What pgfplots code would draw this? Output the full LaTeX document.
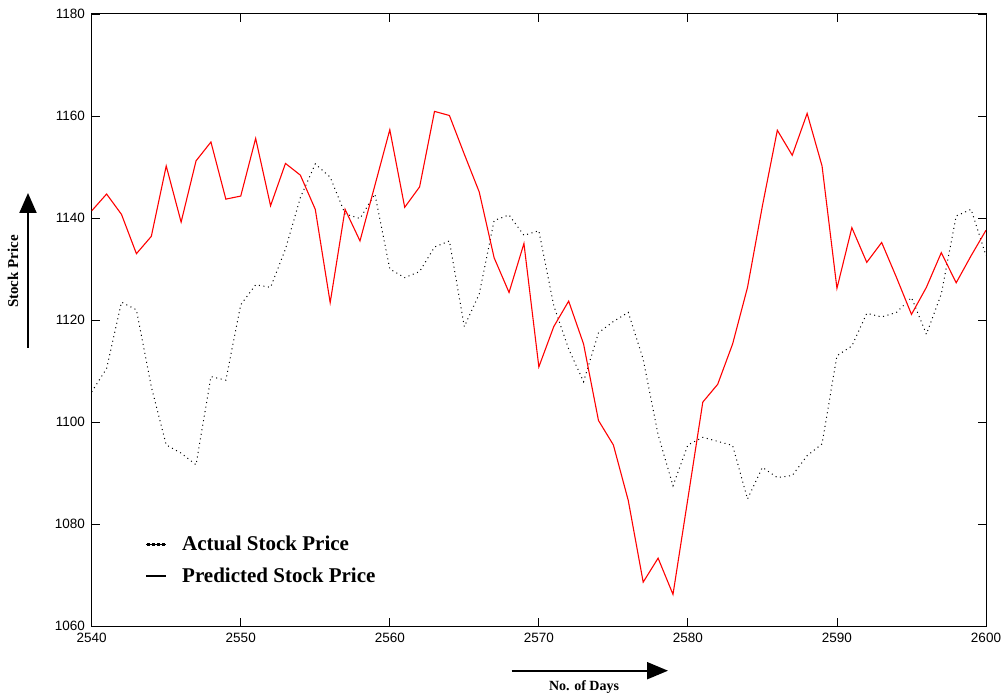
\documentclass[border=0pt]{standalone}
\usepackage{fontspec}
\setmainfont{Liberation Sans}
\newfontfamily\tnr{Liberation Serif}
\usepackage{pgfplots}
\pgfplotsset{compat=1.18}
\usetikzlibrary{arrows.meta}

\newcommand\tickfont{\fontsize{13.5bp}{15bp}\selectfont}
\newcommand\legfont{\tnr\bfseries\fontsize{21bp}{24bp}\selectfont}

\begin{document}
\begin{tikzpicture}
\path[use as bounding box] (0bp,0bp) rectangle (1003bp,696bp);
\begin{axis}[
  at={(91.7bp,70bp)}, anchor=south west,
  width=894.3bp, height=612bp, scale only axis,
  xmin=2540, xmax=2600, ymin=1060, ymax=1180,
  xtick={2540,2550,...,2600}, ytick={1060,1080,...,1180},
  xtick pos=both, ytick pos=both,
  xticklabel pos=lower, yticklabel pos=left,
  tick align=inside, major tick length=8bp,
  every tick/.style={black, line width=0.9bp},
  axis line style={black, line width=1bp},
  /pgf/number format/1000 sep={},
  /pgf/number format/assume math mode=true,
  tick label style={font=\tickfont, black},
  yticklabel style={inner sep=0pt, xshift=-6.5bp},
  xticklabel style={inner sep=0pt, yshift=-6.5bp},
  legend style={draw=none, fill=none, font=\legfont,
    at={(axis description cs:0.0596,0.1474)}, anchor=north west,
    inner sep=0pt, nodes={inner sep=0pt}, column sep=15bp, row sep=15.7bp,
    cells={anchor=west}},
]
\addlegendimage{legend image code/.code={\path (0bp,0bp) -- (20bp,0bp);
  \foreach \xx in {1,6,11,16} {\fill[black] (\xx bp,-1bp) rectangle ++(2bp,2bp);}}}
\addlegendentry{Actual Stock Price}
\addlegendimage{legend image code/.code={\draw[black, line width=2bp] (0bp,0bp) -- (20bp,0bp);}}
\addlegendentry{Predicted Stock Price}

\addplot[forget plot, black, line width=1bp, dash pattern=on 1bp off 3.6bp] coordinates {
(2540,1105.9) (2541,1110.5) (2542,1123.5) (2543,1122) (2544,1106.9)
(2545,1095.5) (2546,1093.9) (2547,1091.6) (2548,1108.9) (2549,1108.2)
(2550,1123) (2551,1126.9) (2552,1126.4) (2553,1133.9) (2554,1144)
(2555,1150.6) (2556,1148) (2557,1140.8) (2558,1139.9) (2559,1144.7)
(2560,1130) (2561,1128.3) (2562,1129.5) (2563,1134.3) (2564,1135.5)
(2565,1118.7) (2566,1125.1) (2567,1139.5) (2568,1140.6) (2569,1136.6)
(2570,1137.5) (2571,1122.8) (2572,1114.3) (2573,1107.9) (2574,1117.5)
(2575,1119.7) (2576,1121.5) (2577,1112.3) (2578,1097.5) (2579,1087.5)
(2580,1095.5) (2581,1097) (2582,1096.2) (2583,1095.4) (2584,1084.9)
(2585,1091.1) (2586,1089.1) (2587,1089.5) (2588,1093.4) (2589,1095.7)
(2590,1113) (2591,1114.9) (2592,1121.3) (2593,1120.6) (2594,1121.5)
(2595,1124.4) (2596,1117.2) (2597,1125.1) (2598,1140.4) (2599,1141.7)
(2600,1132.6)};

\addplot[forget plot, red, line width=1.1bp] coordinates {
(2540,1141.4) (2541,1144.7) (2542,1140.7) (2543,1133) (2544,1136.4)
(2545,1150.2) (2546,1139.2) (2547,1151.2) (2548,1154.9) (2549,1143.7)
(2550,1144.3) (2551,1155.6) (2552,1142.4) (2553,1150.7) (2554,1148.4)
(2555,1141.7) (2556,1123.4) (2557,1141.7) (2558,1135.5) (2559,1146.4)
(2560,1157.3) (2561,1142.1) (2562,1146.1) (2563,1160.9) (2564,1160.1)
(2565,1152.5) (2566,1145.1) (2567,1132.2) (2568,1125.4) (2569,1135)
(2570,1110.8) (2571,1118.7) (2572,1123.7) (2573,1115.3) (2574,1100.3)
(2575,1095.5) (2576,1084.6) (2577,1068.6) (2578,1073.3) (2579,1066.2)
(2580,1085) (2581,1103.9) (2582,1107.4) (2583,1115.3) (2584,1126.4)
(2585,1142.4) (2586,1157.2) (2587,1152.3) (2588,1160.5) (2589,1150.2)
(2590,1126.2) (2591,1138.1) (2592,1131.3) (2593,1135.2) (2594,1128.3)
(2595,1121.1) (2596,1126.4) (2597,1133.2) (2598,1127.3) (2599,1132.6)
(2600,1137.6)};
\end{axis}
\draw[line width=2bp, -{Triangle[length=20bp,width=17bp]}] (28bp,348bp) -- (28bp,503bp);
\node[rotate=90, font=\tnr\bfseries\fontsize{15bp}{17bp}\selectfont, inner sep=0pt] at (13bp,424.5bp) {Stock Price};
\draw[line width=2bp, -{Triangle[length=21bp,width=17bp]}] (511.7bp,25.3bp) -- (668bp,25.3bp);
\node[font=\tnr\bfseries\fontsize{14bp}{16bp}\selectfont, inner sep=0pt] at (584bp,9bp) {No. of Days};
\end{tikzpicture}
\end{document}
